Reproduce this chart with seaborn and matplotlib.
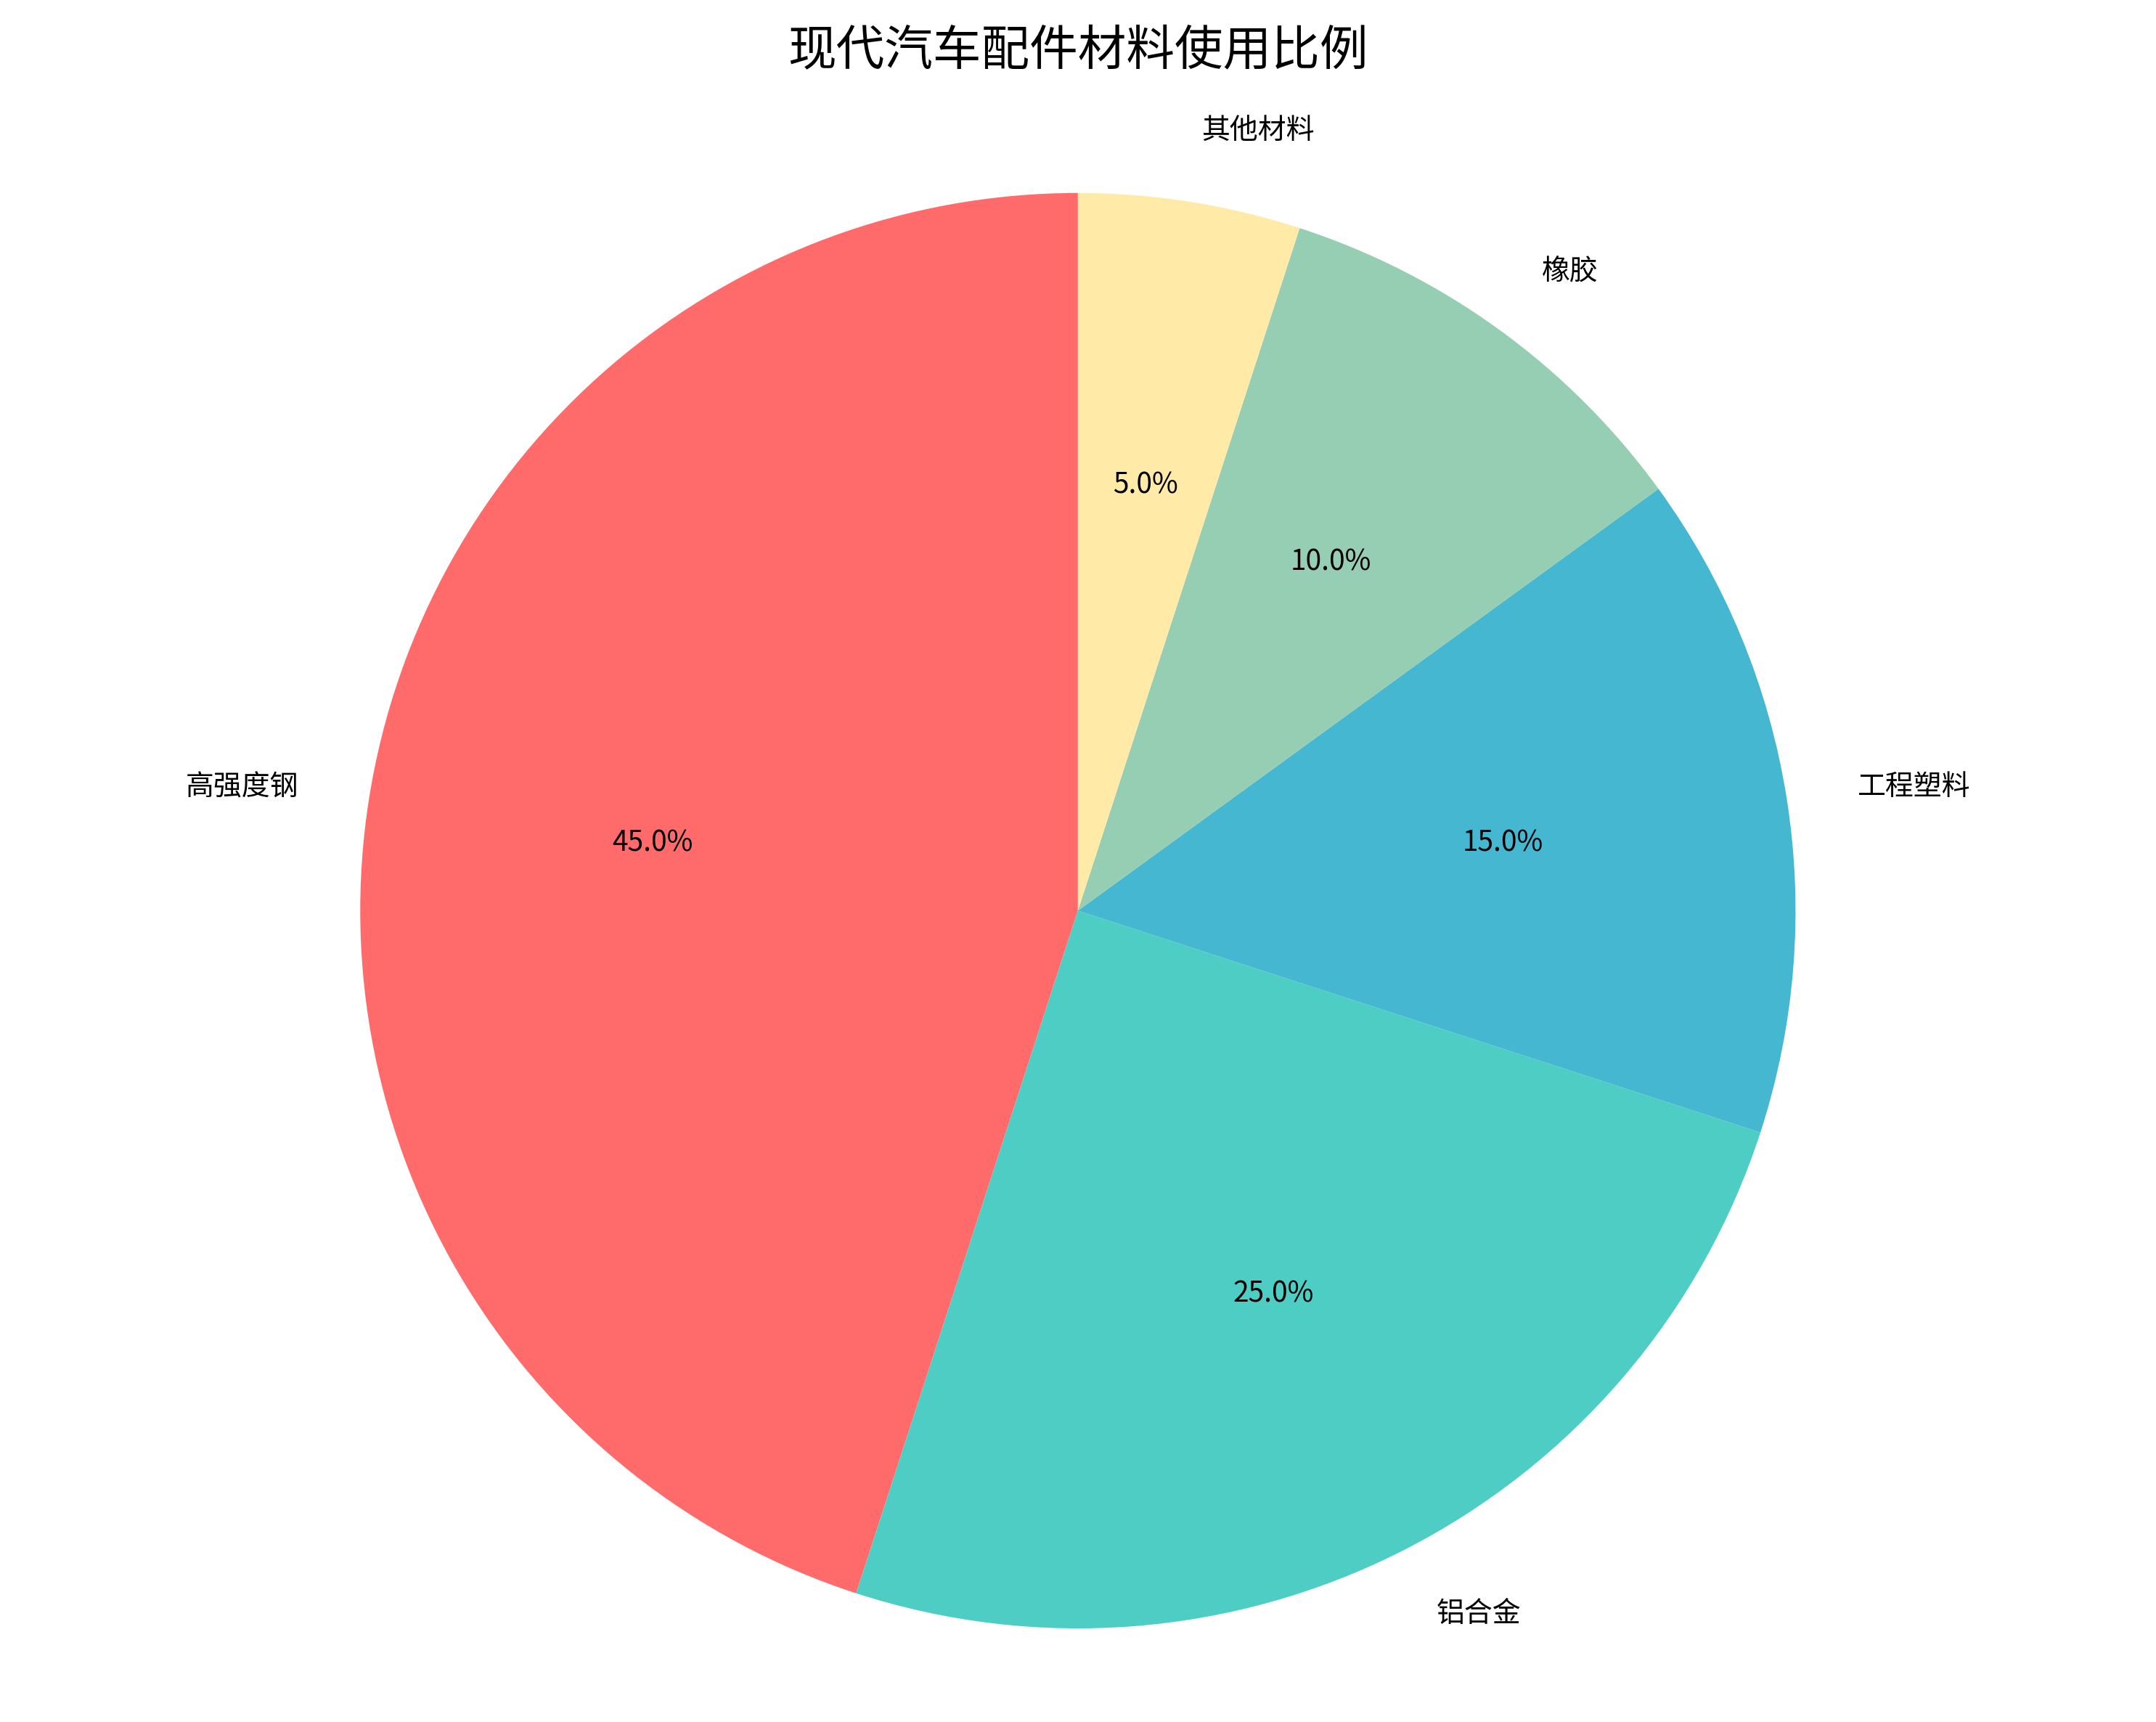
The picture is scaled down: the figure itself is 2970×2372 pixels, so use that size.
import matplotlib
matplotlib.use("Agg")
import matplotlib.pyplot as plt
import seaborn as sns

sns.set_theme(style="white")
plt.rcParams['font.family'] = ['Noto Sans CJK SC', 'DejaVu Sans']

materials = ['高强度钢', '铝合金', '工程塑料', '橡胶', '其他材料']
shares = [45, 25, 15, 10, 5]
colors = ['#FF6B6B', '#4ECDC4', '#45B7D1', '#96CEB4', '#FFEAA7']

fig = plt.figure(figsize=(14.85, 11.86), dpi=200)
ax = fig.add_axes([0.1338, 0.01265, 0.7323, 0.9170])
ax.pie(shares, labels=materials, colors=colors, autopct='%1.1f%%', startangle=90,
       textprops={'fontsize': 14, 'color': 'black'},
       wedgeprops={'linewidth': 0, 'edgecolor': 'none'})
ax.set_xlim(-1.1, 1.1)
ax.set_ylim(-1.1, 1.1)
ax.set_aspect('equal')
ax.set_title('现代汽车配件材料使用比例', fontsize=24, color='black',
             y=1.036, va='center')
fig.savefig('out.png', dpi=200)
